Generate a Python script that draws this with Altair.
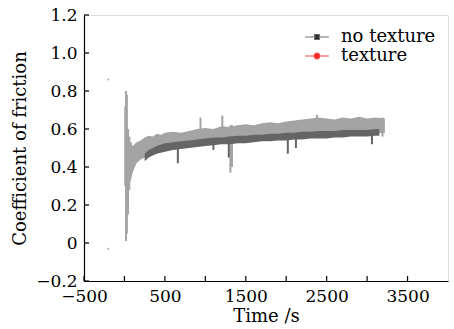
import altair as alt
import pandas as pd

# ---- data ----
tex_t  = [25, 40, 60, 100, 150, 200, 250, 300, 350, 400, 450, 500, 600, 700, 800, 900, 1000, 1100, 1200, 1300,
          1400, 1500, 1600, 1700, 1800, 1900, 2000, 2100, 2200, 2300, 2400, 2500, 2600, 2700, 2800, 2900,
          3000, 3100, 3220]
tex_hi = [0.56, 0.55, 0.53, 0.51, 0.53, 0.54, 0.555, 0.565, 0.56, 0.575, 0.57, 0.58, 0.585, 0.58, 0.59, 0.60,
          0.605, 0.60, 0.615, 0.61, 0.62, 0.625, 0.62, 0.63, 0.635, 0.63, 0.64, 0.645, 0.65, 0.655, 0.66,
          0.655, 0.65, 0.66, 0.655, 0.665, 0.655, 0.66, 0.655]
tex_lo = [0.02, 0.20, 0.30, 0.37, 0.42, 0.44, 0.45, 0.46, 0.47, 0.48, 0.485, 0.49, 0.50, 0.505, 0.51, 0.515,
          0.52, 0.525, 0.53, 0.53, 0.535, 0.54, 0.54, 0.545, 0.55, 0.55, 0.555, 0.555, 0.56, 0.56, 0.565,
          0.565, 0.565, 0.57, 0.57, 0.57, 0.575, 0.575, 0.58]

no_t  = [250, 300, 350, 400, 500, 600, 700, 800, 900, 1000, 1100, 1200, 1300, 1400, 1500, 1600, 1700, 1800,
         1900, 2000, 2100, 2200, 2300, 2400, 2500, 2600, 2700, 2800, 2900, 3000, 3100, 3150]
no_hi = [0.47, 0.49, 0.50, 0.51, 0.525, 0.53, 0.535, 0.54, 0.545, 0.55, 0.555, 0.555, 0.56, 0.565, 0.565,
         0.57, 0.57, 0.575, 0.575, 0.58, 0.58, 0.585, 0.585, 0.59, 0.59, 0.59, 0.595, 0.595, 0.595, 0.595,
         0.60, 0.60]
no_lo = [0.43, 0.45, 0.46, 0.47, 0.48, 0.49, 0.495, 0.50, 0.505, 0.51, 0.515, 0.52, 0.52, 0.525, 0.525, 0.53,
         0.535, 0.535, 0.54, 0.54, 0.545, 0.545, 0.55, 0.55, 0.55, 0.555, 0.555, 0.56, 0.56, 0.56, 0.565, 0.565]

# spikes (time, low, high)
tex_sp_t  = [10, 20, 30, 45, 60, 80, 940, 1210, 1310, 1330, 2380, 3190]
tex_sp_lo = [0.30, 0.01, 0.05, 0.15, 0.28, 0.35, 0.60, 0.61, 0.37, 0.40, 0.62, 0.56]
tex_sp_hi = [0.72, 0.80, 0.78, 0.60, 0.56, 0.53, 0.66, 0.67, 0.62, 0.62, 0.675, 0.66]
no_sp_t   = [660, 1100, 1290, 2020, 2120, 3060]
no_sp_lo  = [0.42, 0.49, 0.45, 0.47, 0.50, 0.52]
no_sp_hi  = [0.53, 0.55, 0.56, 0.58, 0.58, 0.59]

stray_t = [-200, -200]
stray_v = [0.86, -0.03]

x_ticks = [-500, 0, 500, 1000, 1500, 2000, 2500, 3000, 3500]
y_ticks = [-0.2, 0, 0.2, 0.4, 0.6, 0.8, 1.0, 1.2]

series = ["no texture", "texture"]

LIGHT = "#a4a4a4"
DARK = "#656565"
FONT = "DejaVu Serif"
W, H = 364, 266

xs = alt.Scale(domain=[-500, 4000], nice=False, zero=False)
ys = alt.Scale(domain=[-0.2, 1.2], nice=False, zero=False)

tex_df = pd.DataFrame({"t": tex_t, "lo": tex_lo, "hi": tex_hi})
no_df = pd.DataFrame({"t": no_t, "lo": no_lo, "hi": no_hi})
tex_sp = pd.DataFrame({"t": tex_sp_t, "lo": tex_sp_lo, "hi": tex_sp_hi})
no_sp = pd.DataFrame({"t": no_sp_t, "lo": no_sp_lo, "hi": no_sp_hi})
stray = pd.DataFrame({"t": stray_t, "v": stray_v})

x_axis = alt.Axis(
    values=x_ticks, title="Time /s", ticks=False, tickSize=0, grid=False, labelOverlap=False,
    labelExpr="datum.value % 1000 == 0 ? '' : replace(format(datum.value, 'd'), '-', '−')",
    labelFont=FONT, labelFontSize=17, labelColor="black", labelPadding=7,
    titleFont=FONT, titleFontSize=18, titleFontWeight="normal", titleColor="black", titlePadding=3,
    domainColor="black", domainWidth=1.2, labelFlush=False,
)
y_axis = alt.Axis(
    values=y_ticks, title="Coefficient of friction", ticks=False, tickSize=0, grid=False, labelOverlap=False,
    labelExpr="datum.value == 0 ? '0' : replace(format(datum.value, '.1f'), '-', '−')",
    labelFont=FONT, labelFontSize=17, labelColor="black", labelPadding=7,
    titleFont=FONT, titleFontSize=18, titleFontWeight="normal", titleColor="black", titlePadding=6,
    domainColor="black", domainWidth=1.2, labelFlush=False,
)


def X(field):
    return alt.X(field, scale=xs, axis=x_axis)


def Y(field):
    return alt.Y(field, scale=ys, axis=y_axis)


tex_band = alt.Chart(tex_df).mark_area(color=LIGHT, opacity=1, interpolate="linear").encode(
    x=X("t:Q"), y=Y("hi:Q"), y2="lo:Q"
)
tex_spk = alt.Chart(tex_sp).mark_rule(color=LIGHT, strokeWidth=2).encode(
    x=X("t:Q"), y=Y("lo:Q"), y2="hi:Q"
)
no_band = alt.Chart(no_df).mark_area(color=DARK, opacity=1, interpolate="linear").encode(
    x=X("t:Q"), y=Y("hi:Q"), y2="lo:Q"
)
no_spk = alt.Chart(no_sp).mark_rule(color=DARK, strokeWidth=2).encode(
    x=X("t:Q"), y=Y("lo:Q"), y2="hi:Q"
)
stray_pts = alt.Chart(stray).mark_point(filled=True, color=LIGHT, size=4, opacity=1).encode(
    x=X("t:Q"), y=Y("v:Q")
)

xt = alt.Chart(pd.DataFrame({"v": x_ticks})).mark_rule(color="black", strokeWidth=1.2).encode(
    x=X("v:Q"), y=alt.value(H), y2=alt.value(H - 5)
)
yt = alt.Chart(pd.DataFrame({"v": y_ticks})).mark_rule(color="black", strokeWidth=1.2).encode(
    y=Y("v:Q"), x=alt.value(0), x2=alt.value(5)
)

# legend carrier (points outside the x domain, clipped away)
leg_df = pd.DataFrame({"t": [-1000, -1000], "v": [0.5, 0.5], "s": series})
shape_paths = [
    "M-1.7,0H1.7M-0.35,-0.35H0.35V0.35H-0.35Z",
    "M-1.7,0H1.7M0.4,0A0.4,0.4 0 1,1 -0.4,0A0.4,0.4 0 1,1 0.4,0Z",
]
LEG = dict(orient="none", legendX=224, legendY=13, title=None, padding=0,
           symbolSize=196, symbolStrokeWidth=1.2, symbolOpacity=1,
           labelFont=FONT, labelFontSize=18, labelColor="black", labelOffset=15,
           rowPadding=1, labelLimit=200)
leg = alt.Chart(leg_df).mark_point(filled=True, clip=True, opacity=1, strokeWidth=1.2).encode(
    x=X("t:Q"),
    y=Y("v:Q"),
    fill=alt.Fill("s:N", scale=alt.Scale(domain=series, range=["black", "#ff2020"]), legend=alt.Legend(**LEG)),
    stroke=alt.Stroke("s:N", scale=alt.Scale(domain=series, range=["#707070", "#ff4040"]), legend=alt.Legend(**LEG)),
    shape=alt.Shape("s:N", scale=alt.Scale(domain=series, range=shape_paths), legend=alt.Legend(**LEG)),
)

chart = alt.layer(tex_band, tex_spk, no_band, no_spk, stray_pts, xt, yt, leg).properties(
    width=W, height=H,
    autosize=alt.AutoSizeParams(type="none"),
    padding={"left": 84, "top": 15, "right": 6, "bottom": 48},
).configure_view(
    stroke="black", strokeWidth=1.2
).configure_axis(
    labelOverlap=False
).configure(background="white")

chart.save("out.html", embed_options={"renderer": "svg", "actions": False})
